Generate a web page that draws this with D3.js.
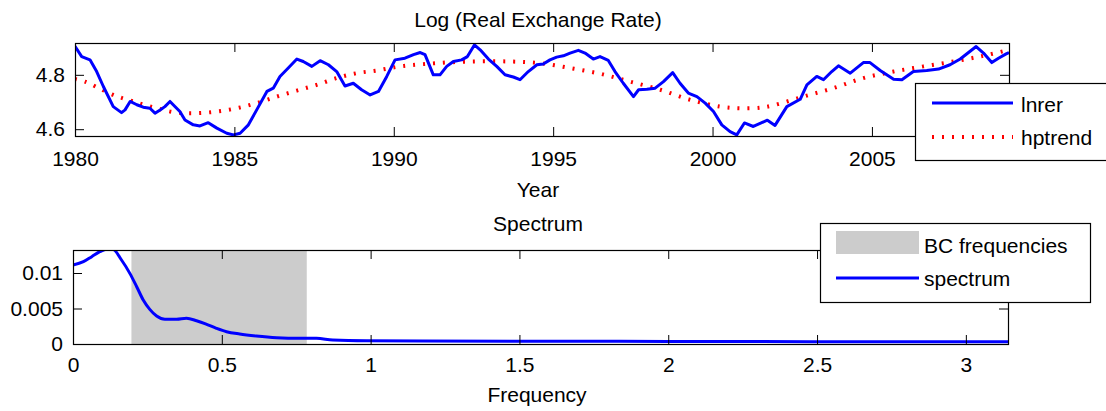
<!DOCTYPE html>
<html>
<head>
<meta charset="utf-8">
<script src="https://cdn.jsdelivr.net/npm/d3@7/dist/d3.min.js"></script>
<style>
  html, body { margin: 0; padding: 0; background: #fff; }
  svg { display: block; }
  text { font-family: "Liberation Sans", Arial, Helvetica, sans-serif; font-size: 21px; fill: #000; }
</style>
</head>
<body>
<svg id="chart" width="1106" height="411"></svg>
<script>
// Log real exchange rate (lnrer), by year
const rerYears = [
  1980.0, 1980.21, 1980.47, 1980.68, 1980.89, 1981.2, 1981.46, 1981.57, 1981.73, 1981.94,
  1982.14, 1982.35, 1982.51, 1982.67, 1982.82, 1982.98, 1983.08, 1983.29, 1983.45, 1983.71,
  1983.92, 1984.18, 1984.45, 1984.76, 1984.97, 1985.18, 1985.44, 1985.7, 1986.02, 1986.22,
  1986.43, 1986.69, 1986.96, 1987.16, 1987.43, 1987.69, 1987.95, 1988.21, 1988.47, 1988.73,
  1988.99, 1989.26, 1989.52, 1989.78, 1990.04, 1990.35, 1990.62, 1990.83, 1990.98, 1991.24,
  1991.45, 1991.66, 1991.87, 1992.13, 1992.31, 1992.53, 1992.71, 1992.97, 1993.23, 1993.49,
  1993.75, 1993.96, 1994.22, 1994.49, 1994.69, 1994.9, 1995.11, 1995.32, 1995.53, 1995.79,
  1996.0, 1996.26, 1996.47, 1996.73, 1996.94, 1997.2, 1997.52, 1997.68, 1997.94, 1998.2,
  1998.46, 1998.75, 1998.98, 1999.24, 1999.51, 1999.77, 2000.03, 2000.29, 2000.55, 2000.76,
  2001.0, 2001.28, 2001.72, 2001.96, 2002.33, 2002.75, 2002.96, 2003.27, 2003.48, 2003.74,
  2003.95, 2004.32, 2004.73, 2004.94, 2005.26, 2005.68, 2005.94, 2006.3, 2006.72, 2007.09,
  2007.45, 2007.77, 2008.27, 2008.5, 2008.76, 2008.97, 2009.21, 2009.3
];
const rerValues = [
  4.905, 4.867, 4.855, 4.812, 4.757, 4.683, 4.661, 4.671, 4.702, 4.690,
  4.681, 4.677, 4.659, 4.671, 4.683, 4.702, 4.690, 4.665, 4.634, 4.616,
  4.612, 4.624, 4.604, 4.585, 4.579, 4.585, 4.616, 4.671, 4.739, 4.751,
  4.794, 4.825, 4.858, 4.849, 4.831, 4.852, 4.837, 4.812, 4.759, 4.769,
  4.745, 4.726, 4.739, 4.794, 4.855, 4.861, 4.874, 4.882, 4.874, 4.800,
  4.800, 4.831, 4.849, 4.855, 4.867, 4.910, 4.892, 4.858, 4.831, 4.800,
  4.792, 4.782, 4.812, 4.837, 4.840, 4.855, 4.865, 4.870, 4.880, 4.890,
  4.880, 4.858, 4.867, 4.853, 4.812, 4.769, 4.720, 4.745, 4.747, 4.751,
  4.775, 4.808, 4.769, 4.733, 4.720, 4.696, 4.665, 4.616, 4.591, 4.579,
  4.623, 4.610, 4.633, 4.614, 4.683, 4.710, 4.763, 4.794, 4.782, 4.812,
  4.833, 4.806, 4.845, 4.845, 4.816, 4.784, 4.782, 4.812, 4.816, 4.821,
  4.837, 4.858, 4.904, 4.880, 4.845, 4.861, 4.877, 4.882
];

// Hodrick-Prescott trend (hptrend)
const trendYears = [
  1980.0, 1980.31, 1980.68, 1981.2, 1981.83, 1982.56, 1983.19, 1983.82, 1984.45, 1985.07,
  1985.7, 1986.33, 1986.96, 1987.58, 1988.21, 1988.84, 1989.47, 1990.09, 1990.6, 1991.35,
  1992.39, 1993.65, 1994.59, 1995.53, 1996.47, 1997.41, 1998.36, 1999.3, 2000.24, 2000.87,
  2001.5, 2001.91, 2002.85, 2003.79, 2004.73, 2005.68, 2006.62, 2007.56, 2008.5, 2009.3
];
const trendValues = [
  4.785, 4.775, 4.755, 4.726, 4.702, 4.677, 4.661, 4.659, 4.665, 4.677,
  4.696, 4.720, 4.742, 4.763, 4.788, 4.806, 4.816, 4.829, 4.836, 4.843,
  4.849, 4.849, 4.843, 4.825, 4.804, 4.775, 4.745, 4.708, 4.683, 4.677,
  4.679, 4.688, 4.720, 4.751, 4.788, 4.812, 4.831, 4.849, 4.870, 4.892
];

// Spectrum of the series over frequency (radians)
const specFreq = [
  0, 0.035, 0.063, 0.09, 0.113, 0.135, 0.163, 0.191, 0.214, 0.236,
  0.258, 0.281, 0.309, 0.348, 0.381, 0.415, 0.449, 0.482, 0.516, 0.56,
  0.616, 0.684, 0.762, 0.818, 0.873, 0.986, 1.5, 2.0, 2.5, Math.PI
];
const specValues = [
  0.01113, 0.01159, 0.0123, 0.0130, 0.01336, 0.0133, 0.01183, 0.00995, 0.00807, 0.0062,
  0.00488, 0.00394, 0.00348, 0.00348, 0.00362, 0.00328, 0.00277, 0.00221, 0.00173, 0.00141,
  0.00113, 0.00089, 0.0008, 0.0008, 0.00056, 0.00046, 0.0004, 0.00036, 0.00033, 0.0003
];

// Business-cycle band: periods of 8 to 32 quarters
const bcBand = [2 * Math.PI / 32, 2 * Math.PI / 8];

// Tick values and labels
const yearTicks = [1980, 1985, 1990, 1995, 2000, 2005];
const rerTicks = [4.6, 4.8];
const rerTickLabels = ["4.6", "4.8"];
const freqTicks = [0, 0.5, 1, 1.5, 2, 2.5, 3];
const freqTickLabels = ["0", "0.5", "1", "1.5", "2", "2.5", "3"];
const specTicks = [0, 0.005, 0.01];
const specTickLabels = ["0", "0.005", "0.01"];

const svg = d3.select("#chart");
const TICK = 9;

function frame(g, x, y, xTicks, yTicks, xFmt, yFmt, xPad) {
  const [x0, x1] = x.range();
  const [y0, y1] = y.range();
  // bottom axis with labels, ticks pointing inward
  g.append("g").attr("transform", `translate(0,${y0})`)
    .call(d3.axisBottom(x).tickValues(xTicks).tickFormat(xFmt)
      .tickSizeInner(-TICK).tickSizeOuter(0).tickPadding(xPad))
    .call(a => a.select(".domain").remove());
  // top axis ticks
  g.append("g").attr("transform", `translate(0,${y1})`)
    .call(d3.axisTop(x).tickValues(xTicks).tickFormat("")
      .tickSizeInner(-TICK).tickSizeOuter(0))
    .call(a => a.select(".domain").remove());
  // left axis with labels
  g.append("g").attr("transform", `translate(${x0},0)`)
    .call(d3.axisLeft(y).tickValues(yTicks).tickFormat(yFmt)
      .tickSizeInner(-TICK).tickSizeOuter(0).tickPadding(10))
    .call(a => a.select(".domain").remove());
  // right axis ticks
  g.append("g").attr("transform", `translate(${x1},0)`)
    .call(d3.axisRight(y).tickValues(yTicks).tickFormat("")
      .tickSizeInner(-TICK).tickSizeOuter(0))
    .call(a => a.select(".domain").remove());
  g.selectAll(".tick line").attr("stroke", "#000");
  g.selectAll(".tick text")
    .style("font-family", '"Liberation Sans", Arial, sans-serif')
    .style("font-size", "21px").attr("fill", "#000");
  g.append("rect")
    .attr("x", x0 + 0.5).attr("y", y1 + 0.5)
    .attr("width", x1 - x0).attr("height", y0 - y1)
    .attr("fill", "none").attr("stroke", "#000").attr("stroke-width", 1.2);
}

// ---------- Upper panel: log real exchange rate ----------
const xUpper = d3.scaleLinear().domain([1980, 2009.3]).range([75, 1009]);
const yUpper = d3.scaleLinear().domain([4.575, 4.917]).range([136, 43]);

const upper = svg.append("g");
upper.append("clipPath").attr("id", "clipUpper").append("rect")
  .attr("x", 75).attr("y", 43).attr("width", 934).attr("height", 93);

const rerData = rerYears.map((t, i) => [t, rerValues[i]]);
const trendData = trendYears.map((t, i) => [t, trendValues[i]]);

upper.append("path").datum(trendData)
  .attr("clip-path", "url(#clipUpper)")
  .attr("fill", "none").attr("stroke", "#ff0000").attr("stroke-width", 4)
  .attr("stroke-dasharray", "2 8")
  .attr("d", d3.line().x(d => xUpper(d[0])).y(d => yUpper(d[1])).curve(d3.curveCatmullRom));

upper.append("path").datum(rerData)
  .attr("clip-path", "url(#clipUpper)")
  .attr("fill", "none").attr("stroke", "#0000ff").attr("stroke-width", 3)
  .attr("stroke-linejoin", "round")
  .attr("d", d3.line().x(d => xUpper(d[0])).y(d => yUpper(d[1])));

frame(upper, xUpper, yUpper, yearTicks, rerTicks, d3.format("d"), (d, i) => rerTickLabels[i], 15);

upper.append("text").attr("x", 538).attr("y", 27).attr("text-anchor", "middle")
  .text("Log (Real Exchange Rate)");
upper.append("text").attr("x", 538).attr("y", 197).attr("text-anchor", "middle")
  .text("Year");

// legend
const legUpper = upper.append("g");
legUpper.append("rect").attr("x", 915.5).attr("y", 83.5).attr("width", 200).attr("height", 77)
  .attr("fill", "#fff").attr("stroke", "#000").attr("stroke-width", 1.2);
legUpper.append("line").attr("x1", 932).attr("x2", 1013).attr("y1", 103).attr("y2", 103)
  .attr("stroke", "#0000ff").attr("stroke-width", 3);
legUpper.append("line").attr("x1", 932).attr("x2", 1013).attr("y1", 137).attr("y2", 137)
  .attr("stroke", "#ff0000").attr("stroke-width", 4).attr("stroke-dasharray", "2 8");
legUpper.append("text").attr("x", 1021).attr("y", 112).text("lnrer");
legUpper.append("text").attr("x", 1021).attr("y", 145).text("hptrend");

// ---------- Lower panel: spectrum ----------
const xLower = d3.scaleLinear().domain([0, Math.PI]).range([73, 1008]);
const yLower = d3.scaleLinear().domain([0, 0.01324]).range([344, 250]);

const lower = svg.append("g");
lower.append("clipPath").attr("id", "clipLower").append("rect")
  .attr("x", 73).attr("y", 250).attr("width", 935).attr("height", 94);

lower.append("rect")
  .attr("x", xLower(bcBand[0])).attr("y", yLower.range()[1])
  .attr("width", xLower(bcBand[1]) - xLower(bcBand[0]))
  .attr("height", yLower.range()[0] - yLower.range()[1])
  .attr("fill", "#cccccc");

const specData = specFreq.map((f, i) => [f, specValues[i]]);
lower.append("path").datum(specData)
  .attr("clip-path", "url(#clipLower)")
  .attr("fill", "none").attr("stroke", "#0000ff").attr("stroke-width", 3)
  .attr("d", d3.line().x(d => xLower(d[0])).y(d => yLower(d[1])).curve(d3.curveMonotoneX));

frame(lower, xLower, yLower, freqTicks, specTicks, (d, i) => freqTickLabels[i], (d, i) => specTickLabels[i], 13);

lower.append("text").attr("x", 538).attr("y", 231).attr("text-anchor", "middle")
  .text("Spectrum");
lower.append("text").attr("x", 537).attr("y", 402).attr("text-anchor", "middle")
  .text("Frequency");

// legend
const legLower = lower.append("g");
legLower.append("rect").attr("x", 820.5).attr("y", 223.5).attr("width", 270).attr("height", 79)
  .attr("fill", "#fff").attr("stroke", "#000").attr("stroke-width", 1.2);
legLower.append("rect").attr("x", 836).attr("y", 231).attr("width", 83).attr("height", 23)
  .attr("fill", "#cccccc");
legLower.append("line").attr("x1", 836).attr("x2", 919).attr("y1", 278).attr("y2", 278)
  .attr("stroke", "#0000ff").attr("stroke-width", 3);
legLower.append("text").attr("x", 924).attr("y", 253).text("BC frequencies");
legLower.append("text").attr("x", 924).attr("y", 286).text("spectrum");
</script>
</body>
</html>
